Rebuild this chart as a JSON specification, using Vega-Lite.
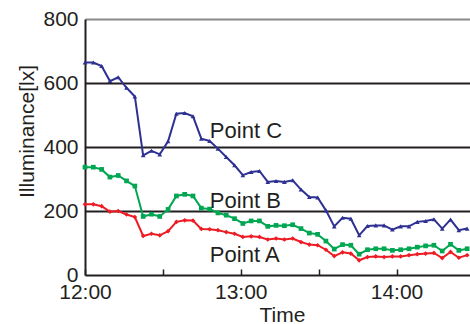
{
  "$schema": "https://vega.github.io/schema/vega-lite/v6.json",
  "width": 385,
  "height": 256,
  "autosize": {"type": "none"},
  "padding": {"left": 85, "top": 19, "right": 0, "bottom": 49},
  "background": "white",
  "config": {
    "view": {"stroke": null},
    "font": "Liberation Sans",
    "axis": {"labelFont": "Liberation Sans", "titleFont": "Liberation Sans", "labelColor": "#231F20", "titleColor": "#231F20", "labelFontSize": 21, "titleFontSize": 21, "titleFontWeight": "normal", "domainColor": "#231F20", "domainWidth": 2}
  },
  "datasets": {
    "series": [
      {"t": 0, "A": 221, "B": 337, "C": 664},
      {"t": 3.2, "A": 221, "B": 337, "C": 664},
      {"t": 6.4, "A": 215, "B": 330, "C": 653},
      {"t": 9.6, "A": 198, "B": 306, "C": 606},
      {"t": 12.8, "A": 200, "B": 311, "C": 618},
      {"t": 16, "A": 189, "B": 294, "C": 585},
      {"t": 19.2, "A": 181, "B": 278, "C": 558},
      {"t": 22.4, "A": 122, "B": 183, "C": 374},
      {"t": 25.6, "A": 129, "B": 190, "C": 388},
      {"t": 28.8, "A": 124, "B": 183, "C": 377},
      {"t": 32, "A": 137, "B": 205, "C": 418},
      {"t": 35.2, "A": 166, "B": 247, "C": 504},
      {"t": 38.4, "A": 171, "B": 252, "C": 506},
      {"t": 41.6, "A": 170, "B": 247, "C": 496},
      {"t": 44.8, "A": 144, "B": 209, "C": 426},
      {"t": 48, "A": 143, "B": 206, "C": 419},
      {"t": 51.2, "A": 140, "B": 194, "C": 395},
      {"t": 54.4, "A": 134, "B": 187, "C": 369},
      {"t": 57.6, "A": 129, "B": 176, "C": 343},
      {"t": 60.8, "A": 119, "B": 161, "C": 312},
      {"t": 64, "A": 121, "B": 169, "C": 322},
      {"t": 67.2, "A": 119, "B": 169, "C": 325},
      {"t": 70.4, "A": 111, "B": 152, "C": 291},
      {"t": 73.6, "A": 114, "B": 155, "C": 294},
      {"t": 76.8, "A": 111, "B": 154, "C": 291},
      {"t": 80, "A": 114, "B": 157, "C": 296},
      {"t": 83.2, "A": 103, "B": 145, "C": 267},
      {"t": 86.4, "A": 95, "B": 131, "C": 244},
      {"t": 89.6, "A": 93, "B": 127, "C": 242},
      {"t": 92.8, "A": 79, "B": 106, "C": 202},
      {"t": 96, "A": 59, "B": 81, "C": 152},
      {"t": 99.2, "A": 71, "B": 95, "C": 179},
      {"t": 102.4, "A": 67, "B": 93, "C": 176},
      {"t": 105.6, "A": 46, "B": 65, "C": 124},
      {"t": 108.8, "A": 56, "B": 79, "C": 153},
      {"t": 112, "A": 58, "B": 82, "C": 155},
      {"t": 115.2, "A": 56, "B": 82, "C": 155},
      {"t": 118.4, "A": 58, "B": 77, "C": 142},
      {"t": 121.6, "A": 58, "B": 79, "C": 152},
      {"t": 124.8, "A": 62, "B": 82, "C": 152},
      {"t": 128, "A": 65, "B": 87, "C": 166},
      {"t": 131.2, "A": 67, "B": 91, "C": 169},
      {"t": 134.4, "A": 69, "B": 93, "C": 174},
      {"t": 137.6, "A": 53, "B": 75, "C": 145},
      {"t": 140.8, "A": 72, "B": 96, "C": 173},
      {"t": 144, "A": 54, "B": 77, "C": 140},
      {"t": 147.2, "A": 62, "B": 82, "C": 145}
    ],
    "labels": [
      {"label": "Point C", "t": 48.1, "v": 427},
      {"label": "Point B", "t": 48.1, "v": 208},
      {"label": "Point A", "t": 48.1, "v": 41}
    ]
  },
  "layer": [
    {
      "data": {"name": "series"},
      "transform": [{"fold": ["A", "B", "C"], "as": ["series", "v"]}],
      "mark": {"type": "line", "strokeWidth": 2},
      "encoding": {
        "x": {"field": "t", "type": "quantitative", "scale": {"domain": [0, 148.3], "nice": false, "zero": false},
          "axis": {"values": [0, 30, 60, 90, 120], "labelExpr": "datum.value == 0 ? '12:00' : datum.value == 60 ? '13:00' : datum.value == 120 ? '14:00' : ''", "grid": false, "domain": false, "offset": -6, "ticks": true, "tickSize": 6, "tickWidth": 1.5, "tickColor": "#231F20", "labelPadding": 6, "labelFlush": false, "labelOverlap": false, "title": "Time", "titleX": 197, "titleY": 52, "titleBaseline": "alphabetic", "titleAnchor": null}},
        "y": {"field": "v", "type": "quantitative", "scale": {"domain": [0, 800], "nice": false},
          "axis": {"values": [0, 200, 400, 600, 800], "ticks": false, "labelPadding": 7, "grid": true, "gridColor": {"condition": {"test": "datum.value === 800", "value": "#8a8a8a"}, "value": "#231F20"}, "gridWidth": {"condition": {"test": "datum.value === 0", "value": 2.2}, "value": 1.8}, "title": "Illuminance[lx]", "titleX": -58, "titleY": 112, "titleAlign": "center", "titleBaseline": "middle", "titleAngle": -90}},
        "color": {"field": "series", "type": "nominal", "scale": {"domain": ["A", "B", "C"], "range": ["#ED1C24", "#00A651", "#2E3192"]}, "legend": null}
      }
    },
    {
      "data": {"name": "series"},
      "transform": [{"fold": ["A", "B", "C"], "as": ["series", "v"]}],
      "mark": {"type": "point", "filled": true, "size": 22, "opacity": 1},
      "encoding": {
        "x": {"field": "t", "type": "quantitative"},
        "y": {"field": "v", "type": "quantitative"},
        "color": {"field": "series", "type": "nominal", "legend": null},
        "shape": {"field": "series", "type": "nominal", "scale": {"domain": ["A", "B", "C"], "range": ["diamond", "square", "triangle-up"]}, "legend": null}
      }
    },
    {
      "data": {"name": "labels"},
      "mark": {"type": "text", "align": "left", "baseline": "alphabetic", "font": "Liberation Sans", "fontSize": 22, "color": "#231F20"},
      "encoding": {
        "x": {"field": "t", "type": "quantitative"},
        "y": {"field": "v", "type": "quantitative"},
        "text": {"field": "label"}
      }
    }
  ]
}
